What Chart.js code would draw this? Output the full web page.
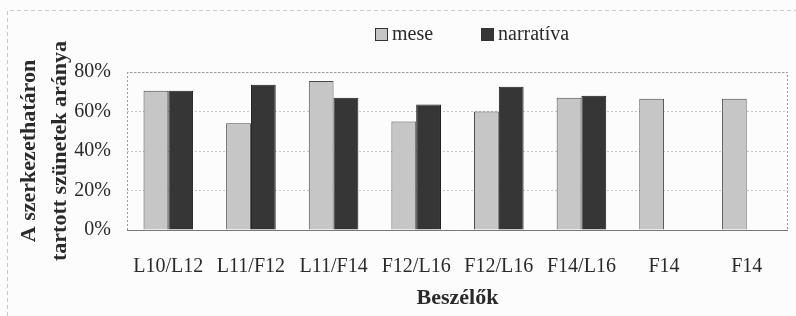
<!DOCTYPE html>
<html>
<head>
<meta charset="utf-8">
<script src="https://cdn.jsdelivr.net/npm/chart.js@4/dist/chart.umd.min.js"></script>
<style>
  body { margin: 0; background: #fcfcfc; }
  #wrap { width: 796px; height: 316px; position: relative; }
</style>
</head>
<body>
<div id="wrap"><canvas id="myChart"></canvas></div>
<script>
/* data */
const speakers = ['L10/L12', 'L11/F12', 'L11/F14', 'F12/L16', 'F12/L16', 'F14/L16', 'F14', 'F14'];
const mese = [70.5, 54, 75.5, 55, 60, 67, 66.5, 66.5];
const narrativa = [70.5, 73.5, 67, 63.5, 72.5, 68, null, null];
const yTicks = [0, 20, 40, 60, 80];

const serif = 'Liberation Serif, Times New Roman, serif';

// dotted frame round the plot + scanned outer frame + legend
const framePlugin = {
    id: 'frame',
    beforeDraw(chart) {
        const c = chart.ctx;
        c.save();
        c.strokeStyle = '#c8c8c8';
        c.lineWidth = 1;
        c.setLineDash([4, 3]);
        c.beginPath();
        c.moveTo(7.5, 316);
        c.lineTo(7.5, 10.5);
        c.lineTo(796, 10.5);
        c.stroke();
        c.restore();
    },
    afterDatasetsDraw(chart) {
        const c = chart.ctx;
        const a = chart.chartArea;
        c.save();
        c.strokeStyle = '#999';
        c.lineWidth = 1;
        c.setLineDash([2, 2]);
        c.beginPath();
        c.moveTo(a.left + 0.5, a.bottom);
        c.lineTo(a.left + 0.5, a.top + 0.5);
        c.lineTo(a.right - 0.5, a.top + 0.5);
        c.lineTo(a.right - 0.5, a.bottom);
        c.stroke();
        c.setLineDash([]);
        c.strokeStyle = '#777';
        c.beginPath();
        c.moveTo(a.left, a.bottom + 0.5);
        c.lineTo(a.right, a.bottom + 0.5);
        c.stroke();

        // legend
        const items = [[375, chart.data.datasets[0]], [481, chart.data.datasets[1]]];
        c.font = '20px ' + serif;
        c.textBaseline = 'middle';
        items.forEach(([x, ds]) => {
            c.fillStyle = ds.backgroundColor;
            c.strokeStyle = '#333';
            c.fillRect(x, 28, 12, 12);
            c.strokeRect(x + 0.5, 28.5, 12, 12);
            c.fillStyle = '#2a2a2a';
            c.fillText(ds.label, x + 17, 35);
        });
        c.restore();
    }
};

var ctx = document.getElementById('myChart').getContext('2d');
var chart = new Chart(ctx, {
    type: 'bar',
    data: {
        labels: speakers,
        datasets: [
            {
                label: 'mese',
                data: mese,
                backgroundColor: '#c6c6c6',
                borderColor: '#4a4a4a',
                borderWidth: 1
            },
            {
                label: 'narratíva',
                data: narrativa,
                backgroundColor: '#363636',
                borderColor: '#1a1a1a',
                borderWidth: 1
            }
        ]
    },
    options: {
        responsive: true,
        maintainAspectRatio: false,
        animation: false,
        layout: { padding: { top: 72, right: 8, left: 0, bottom: 0 } },
        datasets: { bar: { categoryPercentage: 0.6, barPercentage: 1 } },
        plugins: {
            legend: { display: false },
            tooltip: { enabled: false }
        },
        scales: {
            x: {
                grid: { display: false },
                border: { display: false },
                ticks: {
                    color: '#2a2a2a',
                    font: { family: serif, size: 20 },
                    padding: 17,
                    maxRotation: 0,
                    autoSkip: false
                },
                title: {
                    display: true,
                    text: 'Beszélők',
                    color: '#2a2a2a',
                    font: { family: serif, size: 22, weight: 'bold' },
                    padding: { top: 10 }
                },
                afterFit(scale) { scale.height = 86; }
            },
            y: {
                min: 0,
                max: 80,
                afterBuildTicks(scale) { scale.ticks = yTicks.map(v => ({ value: v })); },
                grid: {
                    color: '#c4c4c4',
                    drawTicks: false
                },
                border: { display: false, dash: [2, 2] },
                ticks: {
                    color: '#2a2a2a',
                    font: { family: serif, size: 20 },
                    padding: 16,
                    callback: v => v + '%'
                },
                title: {
                    display: true,
                    text: ['A szerkezethatáron', 'tartott szünetek aránya'],
                    color: '#2a2a2a',
                    font: { family: serif, size: 22, weight: 'bold', lineHeight: 1.4 },
                    padding: { top: 14, bottom: 0 }
                },
                afterFit(scale) { scale.width = 127; }
            }
        }
    },
    plugins: [framePlugin]
});
</script>
</body>
</html>
